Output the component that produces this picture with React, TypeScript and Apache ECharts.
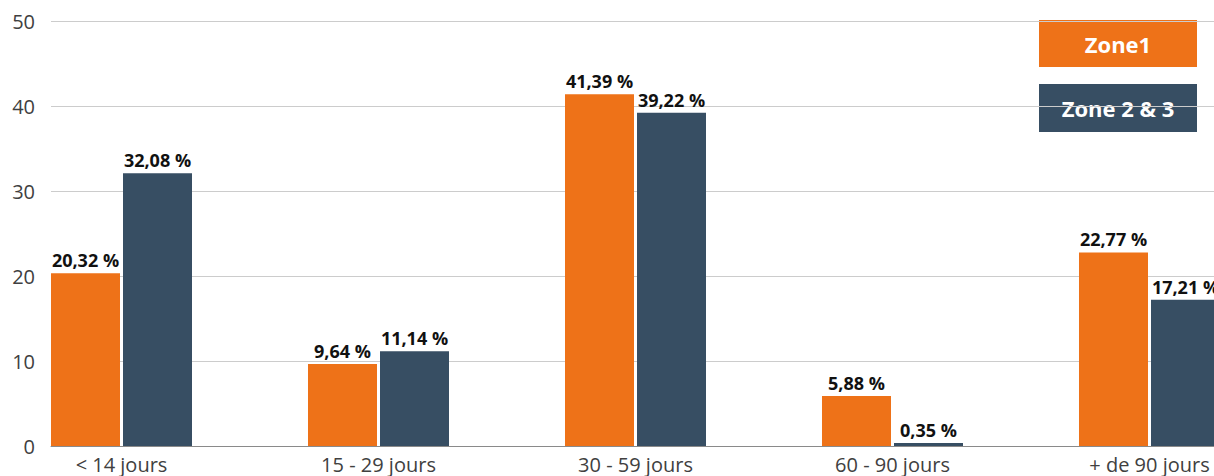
import React, { useEffect, useRef } from "react";
import * as echarts from "echarts";

const categories = ["< 14 jours", "15 - 29 jours", "30 - 59 jours", "60 - 90 jours", "+ de 90 jours"];
const zone1 = [20.32, 9.64, 41.39, 5.88, 22.77];
const zone23 = [32.08, 11.14, 39.22, 0.35, 17.21];
const seriesNames = ["Zone1", "Zone 2 & 3"];
const colors = ["#EE7218", "#374E63"];

const FONT = "'Open Sans', 'Noto Sans', sans-serif";

export default function App() {
  const ref = useRef<HTMLDivElement>(null);
  useEffect(() => {
    if (!ref.current) return;
    const chart = echarts.init(ref.current, null, { renderer: "svg" });
    const label = {
      show: true,
      position: "top",
      distance: 4,
      color: "#111",
      fontFamily: FONT,
      fontWeight: "bold",
      fontSize: 18,
      formatter: (p: any) => p.value.toFixed(2).replace(".", ",") + " %",
    };
    chart.setOption({
      animation: false,
      textStyle: { fontFamily: FONT },
      grid: [
        { left: 51, top: 21, right: 0, height: 425, outerBoundsMode: "none" },
        { left: -7, top: 21, width: 1285, height: 425, outerBoundsMode: "none" },
      ],
      xAxis: [
        {
          gridIndex: 0,
          type: "category",
          data: categories,
          axisLine: { show: true, lineStyle: { color: "#8a8a8a", width: 1 } },
          axisTick: { show: false },
          axisLabel: { show: false },
        },
        {
          gridIndex: 1,
          type: "category",
          data: categories,
          axisLine: { show: false },
          axisTick: { show: false },
          axisLabel: { fontSize: 20, color: "#404040", fontFamily: FONT, margin: 8 },
        },
      ],
      yAxis: [
        {
          gridIndex: 0,
          type: "value",
          min: 0,
          max: 50,
          interval: 10,
          axisLine: { show: false },
          axisTick: { show: false },
          axisLabel: { fontSize: 20, color: "#404040", fontFamily: FONT, margin: 16 },
          splitLine: { lineStyle: { color: "#cccccc", width: 1 } },
        },
        {
          gridIndex: 1,
          type: "value",
          min: 0,
          max: 50,
          show: false,
          splitLine: { show: false },
        },
      ],
      series: [
        {
          name: seriesNames[0],
          type: "bar",
          xAxisIndex: 1,
          yAxisIndex: 1,
          data: zone1,
          barWidth: 69,
          barGap: "4.35%",
          itemStyle: { color: colors[0] },
          label,
        },
        {
          name: seriesNames[1],
          type: "bar",
          xAxisIndex: 1,
          yAxisIndex: 1,
          data: zone23,
          barWidth: 69,
          barGap: "4.35%",
          itemStyle: { color: colors[1] },
          label,
        },
      ],
      graphic: [
        { type: "rect", shape: { x: 1039, y: 20, width: 158, height: 47 }, style: { fill: colors[0] } },
        {
          type: "text",
          x: 1118,
          y: 43.5,
          style: {
            text: seriesNames[0],
            fill: "#ffffff",
            font: `bold 22px ${FONT}`,
            align: "center",
            verticalAlign: "middle",
          },
        },
        { type: "rect", shape: { x: 1039, y: 84, width: 158, height: 48 }, style: { fill: colors[1] } },
        {
          type: "text",
          x: 1118,
          y: 108,
          style: {
            text: seriesNames[1],
            fill: "#ffffff",
            font: `bold 22px ${FONT}`,
            align: "center",
            verticalAlign: "middle",
          },
        },
      ],
    });
    return () => chart.dispose();
  }, []);
  return (
    <div
      ref={ref}
      style={{ position: "fixed", left: 0, top: 0, width: 1214, height: 476, background: "#fff" }}
    />
  );
}
